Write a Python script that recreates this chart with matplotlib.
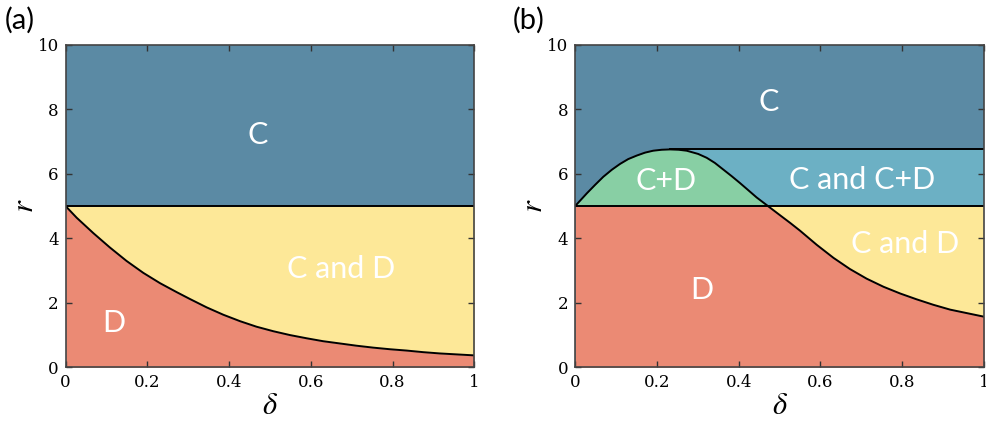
import matplotlib
matplotlib.use("Agg")
import matplotlib.pyplot as plt
import numpy as np

# (a) 境界曲線
delta_a = [0, 0.027, 0.068, 0.108, 0.149, 0.19, 0.231, 0.272, 0.304, 0.345, 0.386,
           0.427, 0.467, 0.508, 0.549, 0.59, 0.63, 0.671, 0.712, 0.753, 0.794,
           0.834, 0.875, 0.916, 1.0]
r_a = [5.0, 4.64, 4.16, 3.72, 3.30, 2.93, 2.61, 2.33, 2.12, 1.86, 1.63,
       1.43, 1.26, 1.12, 1.00, 0.90, 0.81, 0.74, 0.67, 0.61, 0.56,
       0.52, 0.47, 0.43, 0.37]

# (b) 境界曲線
delta_b = [0, 0.029, 0.049, 0.069, 0.09, 0.11, 0.13, 0.151, 0.171, 0.191, 0.212,
           0.232, 0.253, 0.273, 0.301, 0.322, 0.342, 0.363, 0.383, 0.403, 0.424,
           0.444, 0.472, 0.501, 0.526, 0.55, 0.591, 0.632, 0.672, 0.713, 0.754,
           0.795, 0.835, 0.876, 0.917, 1.0]
r_b = [5.0, 5.40, 5.66, 5.91, 6.13, 6.31, 6.46, 6.57, 6.66, 6.72, 6.75,
       6.76, 6.75, 6.72, 6.62, 6.50, 6.34, 6.13, 5.93, 5.72, 5.49,
       5.27, 5.0, 4.72, 4.48, 4.24, 3.80, 3.395, 3.05, 2.75, 2.50,
       2.29, 2.11, 1.94, 1.79, 1.57]

r_line = 5.0
r_plateau = 6.76
delta_peak = 0.232

col_C = "#5b8aa4"
col_CD = "#fde898"
col_D = "#eb8a74"
col_CpD = "#88cfa4"
col_CCpD = "#6cb0c4"

plt.rcParams["mathtext.fontset"] = "stix"

fig = plt.figure(figsize=(9.86, 4.28), dpi=100)
ax1 = fig.add_axes([0.0666, 0.1418, 0.4144, 0.7531])
ax2 = fig.add_axes([0.5832, 0.1418, 0.4148, 0.7531])

lab_font = dict(family="Lato", color="white", fontsize=22, ha="center", va="center")

# --- (a)
xa = np.array(delta_a)
ya = np.array(r_a)
ax1.fill_between([0, 1], r_line, 10, color=col_C, lw=0)
ax1.fill_between(xa, ya, r_line, color=col_CD, lw=0)
ax1.fill_between(xa, 0, ya, color=col_D, lw=0)
ax1.plot([0, 1], [r_line, r_line], color="black", lw=1.4)
ax1.plot(xa, ya, color="black", lw=1.4)
ax1.text(0.47, 7.22, "C", **lab_font)
ax1.text(0.675, 3.04, "C and D", **lab_font)
ax1.text(0.117, 1.36, "D", **lab_font)

# --- (b)
xb = np.array(delta_b)
yb = np.array(r_b)
ax2.fill_between([0, 1], 0, 10, color=col_C, lw=0)
ax2.fill_between([delta_peak, 1], r_line, r_plateau, color=col_CCpD, lw=0)
ax2.fill_between(xb, r_line, yb, where=yb >= r_line, color=col_CpD, lw=0)
ax2.fill_between(xb, 0, np.minimum(yb, r_line), color=col_D, lw=0)
ax2.fill_between(xb, yb, r_line, where=yb <= r_line, color=col_CD, lw=0)
ax2.plot([0, 1], [r_line, r_line], color="black", lw=1.4)
ax2.plot([delta_peak, 1], [r_plateau, r_plateau], color="black", lw=1.4)
ax2.plot(xb, yb, color="black", lw=1.4)
ax2.text(0.473, 8.24, "C", **lab_font)
ax2.text(0.222, 5.77, "C+D", **lab_font)
ax2.text(0.701, 5.82, "C and C+D", **lab_font)
ax2.text(0.807, 3.84, "C and D", **lab_font)
ax2.text(0.31, 2.41, "D", **lab_font)

for ax in (ax1, ax2):
    ax.set_xlim(0, 1)
    ax.set_ylim(0, 10)
    ax.set_xticks([0, 0.2, 0.4, 0.6, 0.8, 1])
    ax.set_xticklabels(["0", "0.2", "0.4", "0.6", "0.8", "1"])
    ax.set_yticks([0, 2, 4, 6, 8, 10])
    ax.tick_params(direction="in", top=True, right=True, length=4, width=1,
                   color="#333333", labelsize=12, pad=5)
    for lab in ax.get_xticklabels() + ax.get_yticklabels():
        lab.set_family("DejaVu Serif")
    for sp in ax.spines.values():
        sp.set_color("#444444")
        sp.set_linewidth(1.2)
    ax.set_xlabel(r"$\delta$", fontsize=22, labelpad=0)
    ax.set_ylabel(r"$r$", fontsize=22, labelpad=-1)

fig.text(0.005, 0.953, "(a)", family="Lato", fontsize=21, va="center", ha="left")
fig.text(0.520, 0.953, "(b)", family="Lato", fontsize=21, va="center", ha="left")

fig.savefig("out.png", dpi=100)
